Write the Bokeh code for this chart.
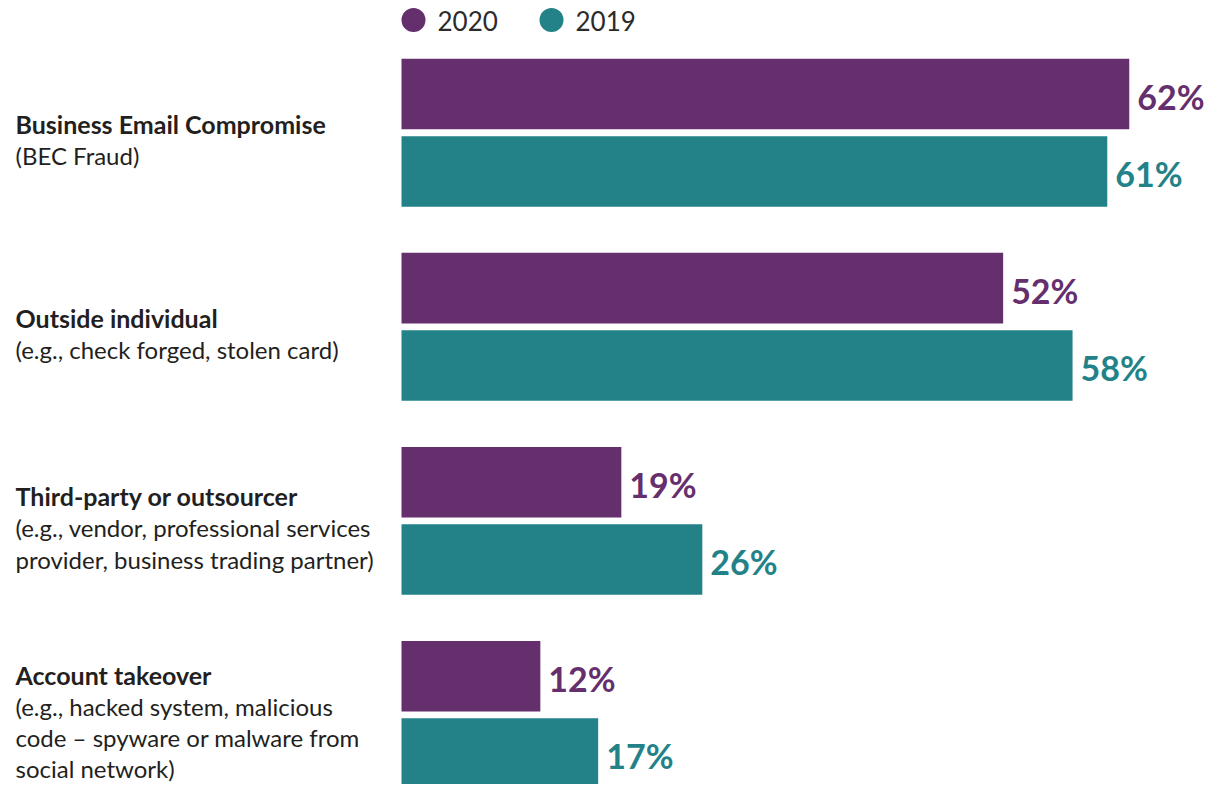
from bokeh.plotting import figure
from bokeh.models import Range1d
from bokeh.core.properties import value
from bokeh.embed import file_html
from bokeh.resources import INLINE

# ---------------- data ----------------
categories = ["Business Email Compromise", "Outside individual",
              "Third-party or outsourcer", "Account takeover"]
details = [["(BEC Fraud)"],
           ["(e.g., check forged, stolen card)"],
           ["(e.g., vendor, professional services", "provider, business trading partner)"],
           ["(e.g., hacked system, malicious", "code \u2013 spyware or malware from", "social network)"]]
series_names = ["2020", "2019"]
values_2020 = [62.9, 52, 19, 12]   # bar lengths
values_2019 = [61, 58, 26, 17]
labels_2020 = ["62%", "52%", "19%", "12%"]
labels_2019 = ["61%", "58%", "26%", "17%"]

# ---------------- layout / style ----------------
W, H = 1206, 784
SCALE = 11.57          # px per percent
ORIGIN = 401           # px of the zero line
PURPLE = "#652f6d"
TEAL = "#228288"
TEXT = "#231f20"
FONT = "Lato"

def px2x(px):
    return (px - ORIGIN) / SCALE

PITCH = 198
C_2020 = 95.5
C_2019 = 174.5
BAR_H = 72

p = figure(width=W, height=H, output_backend="svg", toolbar_location=None,
           x_range=Range1d(px2x(0), px2x(W)), y_range=Range1d(800, 0),
           x_axis_type=None, y_axis_type=None, min_border=0,
           outline_line_color=None, background_fill_color="white",
           border_fill_color="white")
p.xgrid.visible = False
p.ygrid.visible = False

n = len(categories)
y20 = [C_2020 + i * PITCH for i in range(n)]
y19 = [C_2019 + i * PITCH for i in range(n)]

p.hbar(y=y20, left=0, right=values_2020, height=BAR_H, color=PURPLE, line_color=None)
p.hbar(y=y19, left=0, right=values_2019, height=BAR_H, color=TEAL, line_color=None)

p.text(x=values_2020, y=[v + 2 for v in y20], text=labels_2020, x_offset=8,
       text_font=value(FONT), text_font_style="bold", text_font_size="34px",
       text_color=PURPLE, text_baseline="middle", text_align="left")
p.text(x=values_2019, y=[v + 2 for v in y19], text=labels_2019, x_offset=8,
       text_font=value(FONT), text_font_style="bold", text_font_size="34px",
       text_color=TEAL, text_baseline="middle", text_align="left")

# category labels
LINE = 32
tx, ty, dx, dy = [], [], [], []
for i, (cat, det) in enumerate(zip(categories, details)):
    center = (y20[i] + y19[i]) / 2 + 7
    nlines = 1 + len(det)
    first = center - (nlines - 1) * LINE / 2
    tx.append(px2x(15)); ty.append(first)
    for j, d in enumerate(det):
        dx.append(px2x(15)); dy.append(first + (j + 1) * LINE)
p.text(x=tx, y=ty, text=categories, text_font=value(FONT), text_font_style="bold",
       text_font_size="25px", text_color=TEXT, text_baseline="middle", text_align="left")
p.text(x=dx, y=dy, text=[d for det in details for d in det], text_font=value(FONT),
       text_font_size="24px", text_color=TEXT, text_baseline="middle", text_align="left")

# legend
p.scatter(x=[px2x(413), px2x(551)], y=[20, 20], size=24, color=[PURPLE, TEAL], line_color=None)
p.text(x=[px2x(437), px2x(575)], y=[21, 21], text=series_names, text_font=value(FONT),
       text_font_size="26px", text_color="#2b2b2b", text_baseline="middle", text_align="left")

open("out.html", "w").write(file_html(p, INLINE))
